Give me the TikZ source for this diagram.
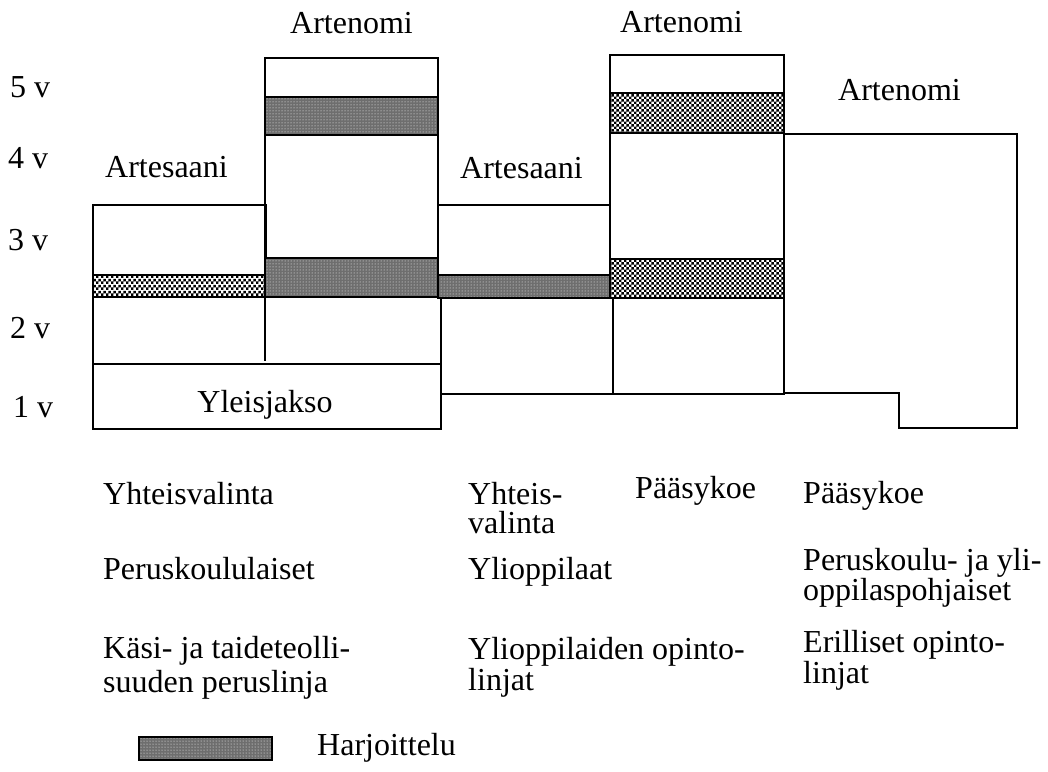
\documentclass[tikz,border=0pt]{standalone}
\usepackage{fontspec}
\setmainfont{Liberation Serif}
\usepackage{tikz}
\usetikzlibrary{patterns}
\definecolor{Ink}{HTML}{000000}
\definecolor{Dither}{HTML}{6E6E6E}
\pgfdeclarepatternformonly{checker}{\pgfpointorigin}{\pgfpoint{5.4pt}{5.4pt}}{\pgfpoint{5.4pt}{5.4pt}}{%
  \pgfpathrectangle{\pgfpointorigin}{\pgfpoint{2.7pt}{2.7pt}}%
  \pgfpathrectangle{\pgfpoint{2.7pt}{2.7pt}}{\pgfpoint{2.7pt}{2.7pt}}%
  \pgfusepath{fill}%
}

\begin{document}
\begin{tikzpicture}[
  x=1pt, y=-1pt,
  font=\fontsize{32}{29}\selectfont,
  edge/.style={draw=Ink, line width=2.4pt, line cap=rect},
  band/.style={edge, pattern=checker, pattern color=Ink},
  bandfine/.style={edge, preaction={fill=Dither}, pattern=dots, pattern color=white},
  label/.style={anchor=base west, inner sep=0pt, align=left, text=Ink},
  year/.style={label}
]
\useasboundingbox (0,0) rectangle (1048,771);

% Artesaani (peruskoululaiset)
\draw[edge] (93,364) |- (266,205) -- (266,297);
\draw[band] (93,275) rectangle (265,297);
\draw[edge] (93,364) rectangle (441,429);

% Artenomi (yhteisvalinta)
\draw[edge] (265,360) |- (438,58) -- (438,297);
\draw[bandfine] (265,97) rectangle (438,135);
\draw[bandfine] (265,258) rectangle (438,297);

% Artesaani (ylioppilaat)
\draw[edge] (438,205) -- (610,205);
\draw[bandfine] (438,275) rectangle (610,298);
\draw[edge] (441,298) -- (441,429);

% Artenomi (paasykoe)
\draw[edge] (610,298) |- (784,55) -- (784,394) -- (441,394);
\draw[band] (610,93) rectangle (784,133);
\draw[band] (610,259) rectangle (784,298);
\draw[edge] (613,298) -- (613,394);

% Artenomi (erilliset linjat)
\draw[edge] (784,134) -| (1017,428) -- (899,428) |- (784,393);

% vuodet
\node[year] (y5) at (10,97) {5 v};
\node[year] (y4) at (8,168) {4 v};
\node[year] (y3) at (8,250) {3 v};
\node[year] (y2) at (10,338) {2 v};
\node[year] (y1) at (13,417) {1 v};

\node[label] (artenomiA) at (290,33) {Artenomi};
\node[label] (artenomiB) at (620,32) {Artenomi};
\node[label] (artenomiC) at (838,100) {Artenomi};
\node[label] (artesaaniA) at (105,177) {Artesaani};
\node[label] (artesaaniB) at (460,178) {Artesaani};
\node[label, anchor=base] (yleis) at (265,412) {Yleisjakso};

% valinta ja linjat
\node[label] (valintaA) at (103,504) {Yhteisvalinta};
\node[label] (pohjaA) at (103,579) {Peruskoululaiset};
\node[label] (linjaA) at (103,692) {Käsi- ja taideteolli-\\[3pt]suuden peruslinja};
\node[label] (valintaB) at (468,533) {Yhteis-\\valinta};
\node[label] (pohjaB) at (468,579) {Ylioppilaat};
\node[label] (linjaB) at (468,690) {Ylioppilaiden opinto-\\linjat};
\node[label] (valintaC) at (635,498) {Pääsykoe};
\node[label] (valintaD) at (803,503) {Pääsykoe};
\node[label] (pohjaD) at (803,600) {Peruskoulu- ja yli-\\[-1pt]oppilaspohjaiset};
\node[label] (linjaD) at (803,683) {Erilliset opinto-\\linjat};

% selite
\draw[bandfine, line width=1.6pt] (139,737) rectangle (272,760);
\node[label] (selite) at (317,755) {Harjoittelu};
\end{tikzpicture}
\end{document}
